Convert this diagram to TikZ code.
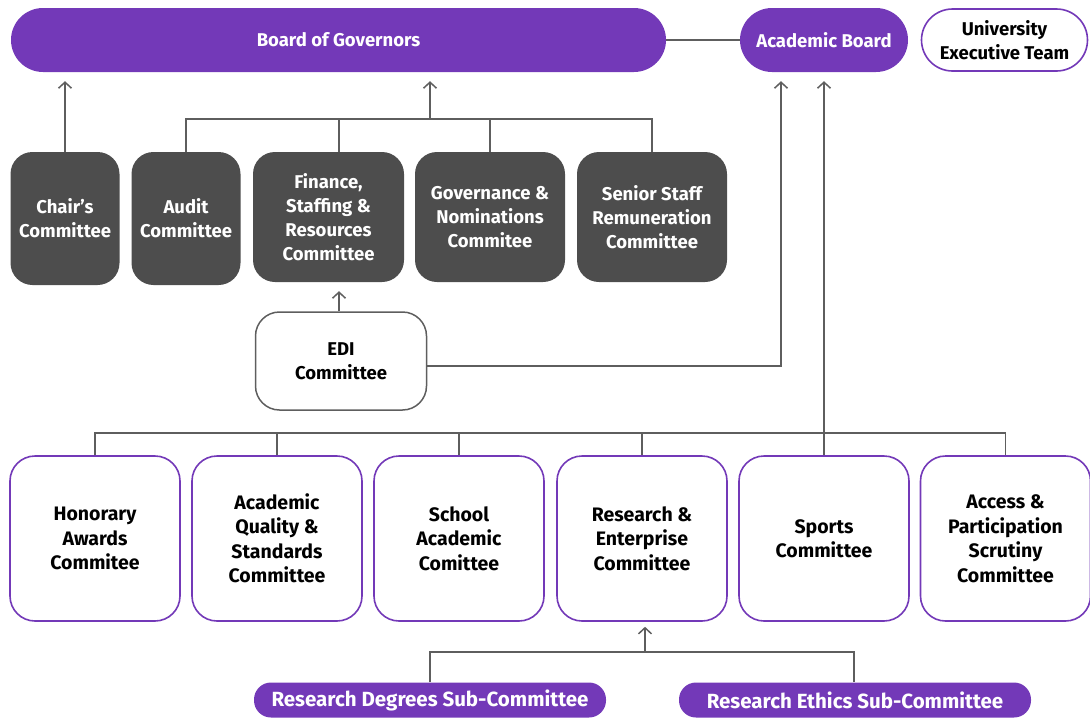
\documentclass[tikz,border=0pt]{standalone}
\usepackage{fontspec}
\setmainfont{Fira Sans}
\usetikzlibrary{arrows.meta}
\definecolor{purp}{HTML}{7339B8}
\definecolor{darkg}{HTML}{4D4D4D}
\definecolor{lineg}{HTML}{5E5E5E}
\tikzset{
  base/.style={align=center, inner sep=0pt, font=\fontsize{18.5}{24}\selectfont\bfseries},
  pill/.style={base, fill=purp, text=white, rounded corners=32pt, minimum height=64pt},
  opill/.style={base, draw=purp, line width=1.6pt, fill=white, text=black, rounded corners=31pt, minimum height=62pt},
  darkbox/.style={base, fill=darkg, text=white, rounded corners=22pt},
  edibox/.style={base, draw=lineg, line width=1.5pt, fill=white, text=black, rounded corners=24pt, minimum width=171pt, minimum height=98pt},
  wbox/.style={base, draw=purp, line width=1.6pt, fill=white, text=black, rounded corners=25pt, minimum width=170pt, minimum height=165pt, font=\fontsize{19.5}{24.5}\selectfont\bfseries},
  subpill/.style={base, fill=purp, text=white, rounded corners=17pt, minimum width=352pt, minimum height=35pt, font=\fontsize{20.5}{22}\selectfont\bfseries},
  conn/.style={draw=lineg, line width=1.8pt},
  arr/.style={conn, -{Straight Barb[length=6pt,width=13pt,line width=1.5pt]}},
}
\begin{document}
\begin{tikzpicture}[x=1pt,y=-1pt]
\useasboundingbox (0,0) rectangle (1090,718);
% top row
\node[pill, minimum width=655pt] (bog) at (338.5,40) {Board of Governors};
\node[pill, minimum width=168pt] (ab) at (824,40) {Academic Board};
\node[opill, minimum width=166pt] (uet) at (1004.5,40) {University\\Executive Team};
% dark committees
\node[darkbox, minimum width=109pt, minimum height=133pt] (chair) at (65,218.5) {Chair's\\Committee};
\node[darkbox, minimum width=109pt, minimum height=133pt] (audit) at (186,218.5) {Audit\\Committee};
\node[darkbox, minimum width=151pt, minimum height=130pt] (fin) at (328.5,217) {Finance,\\Staffing \&\\Resources\\Committee};
\node[darkbox, minimum width=150pt, minimum height=130pt] (gov) at (490,217) {Governance \&\\Nominations\\Commitee};
\node[darkbox, minimum width=150pt, minimum height=130pt] (ssr) at (652,217) {Senior Staff\\Remuneration\\Committee};
% EDI
\node[edibox] (edi) at (341,361) {EDI\\Committee};
% bottom committees
\node[wbox] (hon) at (95,538.5) {Honorary\\Awards\\Commitee};
\node[wbox] (aqs) at (277,538.5) {Academic\\Quality \&\\Standards\\Committee};
\node[wbox] (sac) at (459,538.5) {School\\Academic\\Comittee};
\node[wbox] (rec) at (642,538.5) {Research \&\\Enterprise\\Committee};
\node[wbox] (spo) at (824,538.5) {Sports\\Committee};
\node[wbox] (acc) at (1005.5,538.5) {Access \&\\Participation\\Scrutiny\\Committee};
% sub-committees
\node[subpill] (rdsc) at (430,700) {Research Degrees Sub-Committee};
\node[subpill] (resc) at (855,700) {Research Ethics Sub-Committee};
% connectors top
\draw[conn] (bog.east) -- (ab.west);
\draw[arr, shorten >=9pt] (chair.north) -- (chair.north |- bog.south);
\coordinate (tb) at (430,119);
\coordinate (finin) at ([xshift=10.5pt]fin.north);
\draw[conn] (audit.north) |- (ssr.north |- tb) -- (ssr.north);
\draw[conn] (finin) -- (finin |- tb);
\draw[conn] (gov.north) -- (gov.north |- tb);
\draw[arr, shorten >=9pt] (tb) -- (tb |- bog.south);
% EDI
\coordinate (ediup) at ([xshift=-2pt]edi.north);
\draw[arr, shorten >=9pt] (ediup) -- (ediup |- fin.south);
\coordinate (abl) at ([xshift=-43pt]ab.south);
\draw[arr, shorten >=9pt] ([yshift=-5pt]edi.east) -| (abl);
% bottom bus
\coordinate (bb) at (825,433);
\draw[conn] (hon.north) |- (acc.north |- bb) -- (acc.north);
\draw[conn] (aqs.north) -- (aqs.north |- bb);
\draw[conn] (sac.north) -- (sac.north |- bb);
\draw[conn] (rec.north) -- (rec.north |- bb);
\draw[arr, shorten >=9pt] (spo.north) -- (spo.north |- ab.south);
% sub-committees
\coordinate (sb) at (645,652);
\draw[conn] (rdsc.north) |- ([xshift=-1pt]resc.north |- sb) -- ([xshift=-1pt]resc.north);
\draw[arr, shorten >=5pt] (sb) -- (sb |- rec.south);
\end{tikzpicture}
\end{document}
